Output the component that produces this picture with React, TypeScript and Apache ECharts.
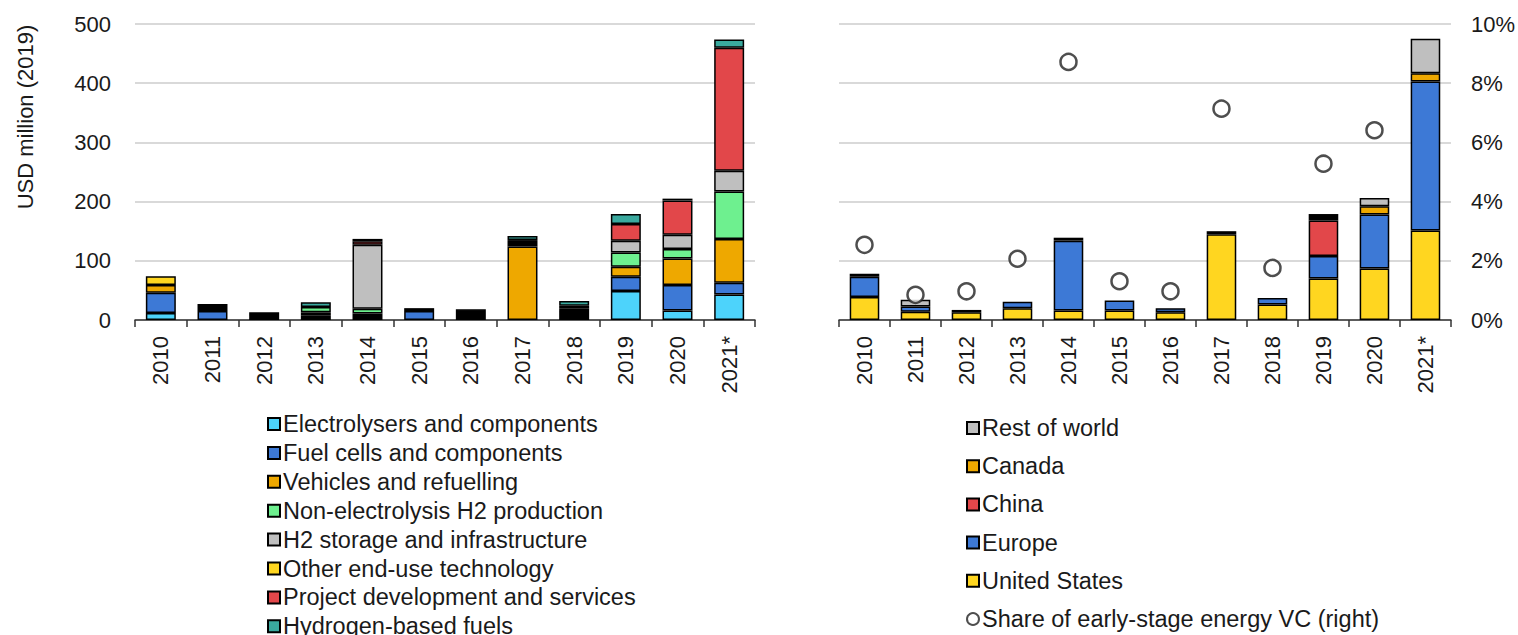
import React, { useEffect, useRef } from "react";
import * as echarts from "echarts";

const years = ["2010", "2011", "2012", "2013", "2014", "2015", "2016", "2017", "2018", "2019", "2020", "2021*"];

// Left chart: by technology (USD million, 2019), stacked bottom-up
const electrolysers = [12, 0, 0, 0, 0, 0, 0, 0, 0, 49, 16, 43];
const fuelCells = [34, 15, 5, 0, 0, 15, 0, 0, 0, 24, 43, 20];
const techOtherLow = [0, 12, 8, 8, 11, 5, 18, 0, 15, 0, 0, 0];
const vehicles = [13, 0, 0, 5, 0, 0, 0, 124, 0, 17, 45, 74];
const techOtherMid = [0, 0, 0, 0, 0, 0, 0, 6, 0, 0, 0, 0];
const nonElectrolysis = [0, 0, 0, 9, 8, 0, 0, 0, 0, 24, 16, 80];
const h2Storage = [0, 0, 0, 0, 108, 0, 0, 5, 4, 20, 24, 35];
const otherEndUse = [15, 0, 0, 0, 0, 0, 0, 0, 5, 0, 0, 0];
const projectDev = [0, 0, 0, 0, 6, 0, 0, 0, 0, 28, 58, 208];
const h2Fuels = [0, 0, 0, 8, 0, 0, 0, 7, 8, 17, 0, 14];
const techOtherTop = [0, 0, 0, 0, 4, 0, 0, 0, 0, 0, 3, 0];

// Right chart: by region (USD million, 2019), stacked bottom-up
const unitedStates = [39, 14, 13, 20, 16, 16, 13, 145, 26, 70, 87, 151];
const europe = [34, 9, 0, 11, 118, 17, 7, 0, 11, 38, 91, 252];
const china = [0, 0, 0, 0, 0, 0, 0, 0, 0, 60, 0, 0];
const canada = [0, 0, 0, 0, 0, 0, 0, 0, 0, 0, 14, 14];
const regionOther = [5, 0, 4, 0, 5, 0, 0, 5, 0, 6, 0, 0];
const restOfWorld = [0, 11, 0, 0, 0, 0, 0, 0, 0, 5, 14, 58];
// Share of early-stage energy VC (%), right axis
const vcShare = [2.54, 0.85, 0.97, 2.07, 8.72, 1.31, 0.97, 7.14, 1.76, 5.28, 6.41, null];

const leftTicks = [0, 100, 200, 300, 400, 500];
const rightTicks = [0, 2, 4, 6, 8, 10];

const FONT = "'Liberation Sans', Arial, sans-serif";
const TXT = "#1a1a1a";

const C = {
  cyan: "#4dd3fb",
  blue: "#3d79d6",
  orange: "#eea800",
  green: "#6ef08f",
  gray: "#bfbfbf",
  yellow: "#ffd620",
  red: "#e2474a",
  teal: "#3aa99e",
  black: "#000000",
};

function bar(name: string, data: number[], color: string, axis: number, stack: string) {
  return {
    type: "bar",
    name,
    stack,
    xAxisIndex: axis,
    yAxisIndex: axis === 0 ? 0 : 1,
    data: data.map((v) => (v === 0 ? null : v)),
    barWidth: "58%",
    itemStyle: { color, borderColor: "#000", borderWidth: 1.5 },
    emphasis: { disabled: true },
  };
}

export default function App() {
  const ref = useRef<HTMLDivElement>(null);
  useEffect(() => {
    const chart = echarts.init(ref.current!, null, { renderer: "svg" });
    const xAxisBase = {
      type: "category",
      data: years,
      axisLine: { lineStyle: { color: "#333", width: 1.5 } },
      axisTick: { show: true, length: 7, lineStyle: { color: "#333", width: 1.5 } },
      axisLabel: { rotate: 90, fontSize: 22, fontFamily: FONT, color: TXT, margin: 16 },
    };
    const splitLine = { show: true, lineStyle: { color: "#d9d9d9", width: 2 } };
    const legendText = { fontSize: 23.5, fontFamily: FONT, color: TXT, padding: [0, 0, 0, -2] };
    const option = {
      animation: false,
      textStyle: { fontFamily: FONT },
      grid: [
        { left: 135, top: 24, width: 620, height: 296 },
        { left: 839, top: 24, width: 619, height: 296 },
      ],
      xAxis: [
        { ...xAxisBase, gridIndex: 0 },
        { ...xAxisBase, gridIndex: 1 },
      ],
      yAxis: [
        {
          type: "value",
          gridIndex: 0,
          position: "left",
          min: leftTicks[0],
          max: leftTicks[leftTicks.length - 1],
          interval: 100,
          axisLine: { show: false },
          axisTick: { show: false },
          axisLabel: { fontSize: 22, fontFamily: FONT, color: TXT, margin: 24 },
          splitLine,
        },
        {
          type: "value",
          gridIndex: 1,
          position: "left",
          min: leftTicks[0],
          max: leftTicks[leftTicks.length - 1],
          interval: 100,
          axisLine: { show: false },
          axisTick: { show: false },
          axisLabel: { show: false },
          splitLine,
        },
        {
          type: "value",
          gridIndex: 1,
          position: "right",
          min: rightTicks[0],
          max: rightTicks[rightTicks.length - 1],
          interval: 2,
          axisLine: { show: false },
          axisTick: { show: false },
          axisLabel: { fontSize: 22, fontFamily: FONT, color: TXT, margin: 20, formatter: "{value}%" },
          splitLine: { show: false },
        },
      ],
      legend: [
        {
          orient: "vertical",
          left: 262,
          top: 407,
          height: 400,
          itemWidth: 12,
          itemHeight: 12,
          itemGap: 4.9,
          icon: "rect",
          textStyle: legendText,
          data: [
            "Electrolysers and components",
            "Fuel cells and components",
            "Vehicles and refuelling",
            "Non-electrolysis H2 production",
            "H2 storage and infrastructure",
            "Other end-use technology",
            "Project development and services",
            "Hydrogen-based fuels",
          ],
          selectedMode: false,
        },
        {
          orient: "vertical",
          left: 961,
          top: 411,
          height: 400,
          itemWidth: 12,
          itemHeight: 12,
          itemGap: 14.2,
          textStyle: legendText,
          data: [
            { name: "Rest of world", icon: "rect" },
            { name: "Canada", icon: "rect" },
            { name: "China", icon: "rect" },
            { name: "Europe", icon: "rect" },
            { name: "United States", icon: "rect" },
            { name: "Share of early-stage energy VC (right)", icon: "circle" },
          ],
          selectedMode: false,
        },
      ],
      graphic: [
        {
          type: "text",
          x: 25,
          y: 117,
          rotation: Math.PI / 2,
          style: {
            text: "USD million (2019)",
            fontSize: 22,
            fontFamily: FONT,
            fill: TXT,
            align: "center",
            verticalAlign: "middle",
          },
        },
      ],
      series: [
        bar("Electrolysers and components", electrolysers, C.cyan, 0, "tech"),
        bar("Fuel cells and components", fuelCells, C.blue, 0, "tech"),
        bar("Other technology (low)", techOtherLow, C.black, 0, "tech"),
        bar("Vehicles and refuelling", vehicles, C.orange, 0, "tech"),
        bar("Other technology (mid)", techOtherMid, C.black, 0, "tech"),
        bar("Non-electrolysis H2 production", nonElectrolysis, C.green, 0, "tech"),
        bar("H2 storage and infrastructure", h2Storage, C.gray, 0, "tech"),
        bar("Other end-use technology", otherEndUse, C.yellow, 0, "tech"),
        bar("Project development and services", projectDev, C.red, 0, "tech"),
        bar("Hydrogen-based fuels", h2Fuels, C.teal, 0, "tech"),
        bar("Other technology (top)", techOtherTop, C.black, 0, "tech"),
        bar("United States", unitedStates, C.yellow, 1, "region"),
        bar("Europe", europe, C.blue, 1, "region"),
        bar("China", china, C.red, 1, "region"),
        bar("Canada", canada, C.orange, 1, "region"),
        bar("Other region", regionOther, C.black, 1, "region"),
        bar("Rest of world", restOfWorld, C.gray, 1, "region"),
        {
          type: "scatter",
          name: "Share of early-stage energy VC (right)",
          xAxisIndex: 1,
          yAxisIndex: 2,
          data: vcShare,
          symbol: "circle",
          symbolSize: 16,
          itemStyle: { color: "#ffffff", borderColor: "#222", borderWidth: 2.5 },
          emphasis: { disabled: true },
          z: 5,
        },
      ],
    };
    chart.setOption(option as any);
    return () => chart.dispose();
  }, []);
  return (
    <div
      ref={ref}
      style={{ position: "fixed", left: 0, top: 0, width: 1518, height: 635, background: "#fff" }}
    />
  );
}
